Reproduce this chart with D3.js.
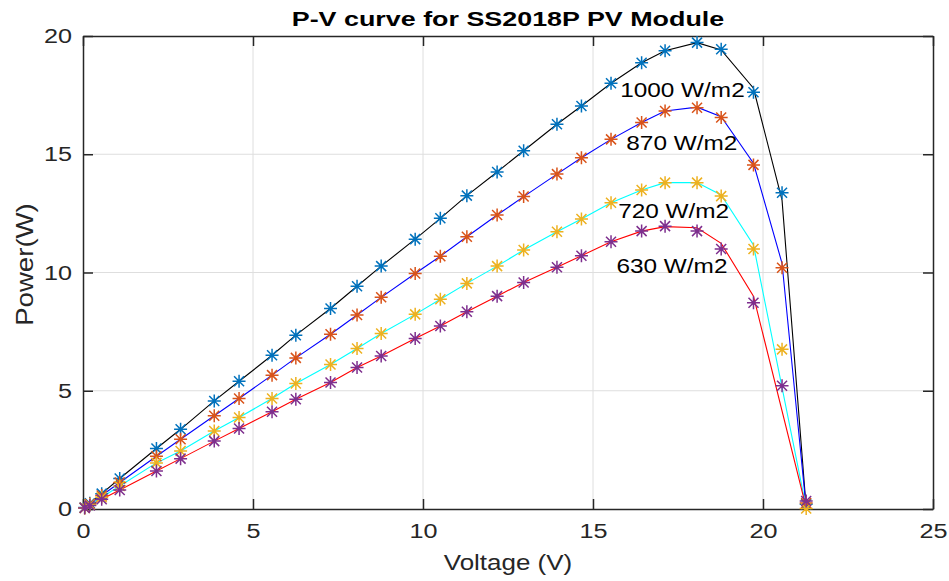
<!DOCTYPE html>
<html>
<head>
<meta charset="utf-8">
<script src="https://cdn.jsdelivr.net/npm/d3@7"></script>
<style>
  body { margin: 0; background: #fff; }
  svg { display: block; font-family: Arial, "Liberation Sans", sans-serif; }
</style>
</head>
<body>
<div id="chart"></div>
<script>
// voltage points (V) shared by all series
const voltage = [0.05, 0.2, 0.55, 1.08, 2.16, 2.87, 3.86, 4.59, 5.56, 6.26, 7.28, 8.06, 8.77, 9.77,
  10.51, 11.29, 12.18, 12.96, 13.94, 14.66, 15.53, 16.43, 17.12, 18.06, 18.77, 19.72, 20.56, 21.27];

// marker values (W)
const p1000 = [0.06, 0.24, 0.65, 1.29, 2.56, 3.37, 4.57, 5.40, 6.50, 7.35, 8.48, 9.42, 10.27, 11.41,
  12.29, 13.25, 14.25, 15.15, 16.27, 17.04, 18.00, 18.87, 19.38, 19.72, 19.44, 17.62, 13.37, 0.20];
const p870 = [0.05, 0.21, 0.57, 1.12, 2.23, 2.95, 3.94, 4.67, 5.66, 6.39, 7.39, 8.20, 8.95, 9.96,
  10.69, 11.51, 12.43, 13.21, 14.16, 14.85, 15.63, 16.34, 16.83, 16.97, 16.55, 14.55, 10.20, 0.25];
const p720 = [0.045, 0.18, 0.50, 0.97, 1.95, 2.45, 3.30, 3.87, 4.67, 5.31, 6.11, 6.79, 7.42, 8.23,
  8.87, 9.54, 10.27, 10.95, 11.72, 12.26, 12.95, 13.49, 13.80, 13.80, 13.23, 10.99, 6.75, 0.02];
const p630 = [0.04, 0.15, 0.41, 0.80, 1.61, 2.13, 2.87, 3.40, 4.11, 4.64, 5.35, 5.98, 6.47, 7.21,
  7.74, 8.34, 9.00, 9.58, 10.22, 10.71, 11.30, 11.75, 11.96, 11.75, 10.99, 8.72, 5.21, 0.34];

// line values (W), null = point not on the line
const l1000 = [0.06, 0.24, 0.65, 1.29, 2.56, 3.37, 4.57, 5.40, 6.50, 7.35, 8.48, 9.42, 10.27, 11.41,
  12.29, 13.25, 14.25, 15.15, 16.27, 17.04, 18.00, 18.87, 19.38, 19.72, 19.41, 17.79, 13.06, 0.05];
const l870 = [0.05, 0.21, 0.57, 1.12, 2.23, 2.95, 3.94, 4.67, 5.66, 6.39, 7.39, 8.20, 8.95, 9.96,
  10.69, 11.51, 12.43, 13.21, 14.16, 14.85, 15.63, 16.34, 16.83, 16.99, 16.59, 14.62, 10.39, 0.05];
const l720 = [0.045, 0.18, 0.50, 0.97, 1.95, 2.45, 3.30, 3.87, 4.67, 5.31, 6.11, 6.79, 7.42, 8.23,
  8.87, 9.54, 10.27, 10.95, 11.72, 12.26, 12.95, 13.49, 13.80, 13.80, 13.28, 11.16, null, 0.05];
const l630 = [0.04, 0.15, 0.41, 0.80, 1.61, 2.13, 2.87, 3.40, 4.11, 4.64, 5.35, 5.98, 6.47, 7.21,
  7.74, 8.34, 9.00, 9.58, 10.22, 10.71, 11.30, 11.75, 11.94, 11.89, 11.23, 9.00, null, 0.05];

const seriesNames = ["1000 W/m2", "870 W/m2", "720 W/m2", "630 W/m2"];
const markerValues = [p1000, p870, p720, p630];
const lineValues = [l1000, l870, l720, l630];
const markerColors = ["#0072BD", "#D95319", "#EDB120", "#7E2F8E"];
const lineColors = ["#000000", "#0000FF", "#00FFFF", "#FF0000"];

// label anchor (left, baseline) in data units
const labelV = [15.80, 15.98, 15.74, 15.69];
const labelP = [17.42, 15.18, 12.30, 9.97];

const xTicks = [0, 5, 10, 15, 20, 25];
const yTicks = [0, 5, 10, 15, 20];

const width = 949, height = 581;
const margin = { top: 36, right: 16, bottom: 72, left: 83 };
const innerWidth = width - margin.left - margin.right;
const innerHeight = height - margin.top - margin.bottom;
const axisColor = "#262626";

const svg = d3.select("#chart").append("svg")
    .attr("width", width)
    .attr("height", height);
const g = svg.append("g")
    .attr("transform", `translate(${margin.left},${margin.top})`);

const x = d3.scaleLinear().domain([0, 25]).range([0, innerWidth]);
const y = d3.scaleLinear().domain([0, 20]).range([innerHeight, 0]);

// the picture's text is wider than its height suggests: widen around the anchor point
function stretch(sel, s, pre = "") {
    sel.each(function () {
        const ax = +this.getAttribute("x") || 0;
        d3.select(this).attr("transform", `${pre} translate(${ax},0) scale(${s},1) translate(${-ax},0)`);
    });
}

// grid
g.append("g").selectAll("line").data(xTicks.slice(1, -1)).join("line")
    .attr("x1", d => x(d)).attr("x2", d => x(d))
    .attr("y1", 0).attr("y2", innerHeight)
    .attr("stroke", "#dedede").attr("stroke-width", 1);
g.append("g").selectAll("line").data(yTicks.slice(1, -1)).join("line")
    .attr("y1", d => y(d)).attr("y2", d => y(d))
    .attr("x1", 0).attr("x2", innerWidth)
    .attr("stroke", "#dedede").attr("stroke-width", 1);

// axes (ticks inward)
const tickLen = 10;
const xAxis = g.append("g")
    .attr("transform", `translate(0,${innerHeight})`)
    .call(d3.axisBottom(x).tickValues(xTicks).tickSizeInner(-tickLen).tickSizeOuter(0).tickPadding(14));
const yAxis = g.append("g")
    .call(d3.axisLeft(y).tickValues(yTicks).tickSizeInner(-tickLen).tickSizeOuter(0).tickPadding(11));
g.append("g")
    .call(d3.axisTop(x).tickValues(xTicks).tickSizeInner(-tickLen).tickSizeOuter(0).tickFormat(""));
g.append("g")
    .attr("transform", `translate(${innerWidth},0)`)
    .call(d3.axisRight(y).tickValues(yTicks).tickSizeInner(-tickLen).tickSizeOuter(0).tickFormat(""));

g.selectAll(".domain").attr("stroke", axisColor).attr("stroke-width", 1.5);
g.selectAll(".tick line").attr("stroke", axisColor).attr("stroke-width", 1.5);
g.selectAll(".tick text")
    .attr("fill", axisColor)
    .style("font-size", "21px");
xAxis.selectAll(".tick text").attr("dy", "0.71em");
stretch(g.selectAll(".tick text"), 1.2);

// lines
const line = d3.line()
    .x(d => x(d.v))
    .y(d => y(d.p));

lineValues.forEach((vals, i) => {
    const pts = voltage.map((v, j) => ({ v: v, p: vals[j] })).filter(d => d.p != null);
    g.append("path")
        .datum(pts)
        .attr("fill", "none")
        .attr("stroke", lineColors[i])
        .attr("stroke-width", 1.1)
        .attr("d", line);
});

// asterisk markers
const armPlus = 6.5, armCross = 5;
const asterisk = `M${-armPlus},0H${armPlus}M0,${-armPlus}V${armPlus}` +
    `M${-armCross},${-armCross}L${armCross},${armCross}M${-armCross},${armCross}L${armCross},${-armCross}`;

markerValues.forEach((vals, i) => {
    g.append("g").selectAll("path")
        .data(voltage.map((v, j) => ({ v: v, p: vals[j] })))
        .join("path")
        .attr("transform", d => `translate(${x(d.v)},${y(d.p)})`)
        .attr("d", asterisk)
        .attr("fill", "none")
        .attr("stroke", markerColors[i])
        .attr("stroke-width", 1.5);
});

// irradiance labels
const labels = g.append("g").selectAll("text")
    .data(seriesNames)
    .join("text")
    .attr("x", (d, i) => x(labelV[i]))
    .attr("y", (d, i) => y(labelP[i]))
    .style("font-size", "21px")
    .attr("fill", "#000")
    .text(d => d);
stretch(labels, 1.16);

// title
const title = g.append("text")
    .attr("x", innerWidth / 2)
    .attr("y", -10)
    .attr("text-anchor", "middle")
    .style("font-size", "21px")
    .style("font-weight", "bold")
    .attr("fill", "#000")
    .text("P-V curve for SS2018P PV Module");
stretch(title, 1.28);

// axis titles
const xTitle = g.append("text")
    .attr("x", innerWidth / 2)
    .attr("y", innerHeight + 61)
    .attr("text-anchor", "middle")
    .style("font-size", "22px")
    .attr("fill", axisColor)
    .text("Voltage (V)");
stretch(xTitle, 1.18);

const yTitle = g.append("text")
    .attr("x", -innerHeight / 2 + 8)
    .attr("y", -margin.left + 33)
    .attr("text-anchor", "middle")
    .style("font-size", "23px")
    .attr("fill", axisColor)
    .text("Power(W)");
stretch(yTitle, 1.2, "rotate(-90)");
</script>
</body>
</html>
